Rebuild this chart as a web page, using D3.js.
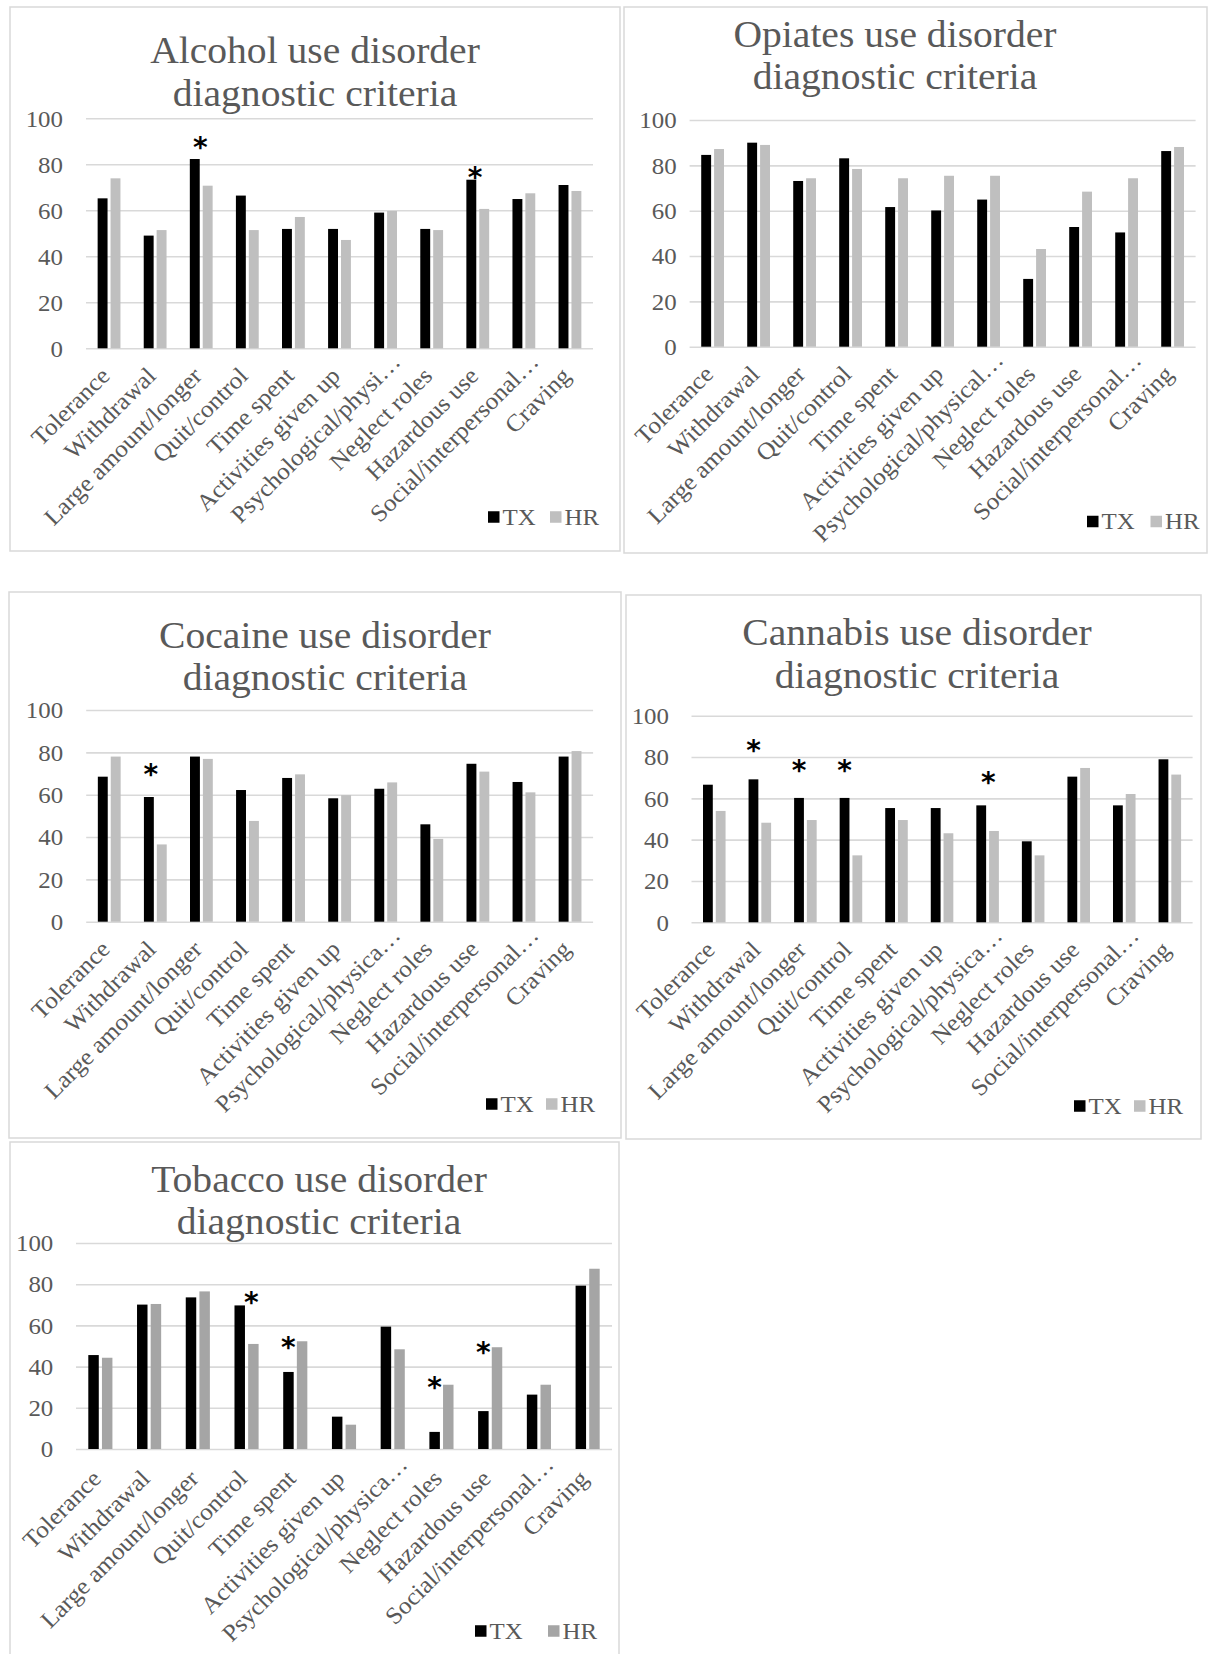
<!DOCTYPE html>
<html><head><meta charset="utf-8">
<script src="https://cdn.jsdelivr.net/npm/d3@7"></script>
<style>
body{margin:0;background:#fff}
svg{display:block}
text{font-family:"Liberation Serif","Times New Roman",serif}
</style>
</head><body>
<svg id="c" width="1210" height="1654"></svg>
<script>
// ---------------- DATA ----------------
const categories = ["Tolerance","Withdrawal","Large amount/longer","Quit/control","Time spent","Activities given up","Psychological/physical problems","Neglect roles","Hazardous use","Social/interpersonal problems","Craving"];
const yTicks = [0,20,40,60,80,100];
const seriesNames = ["TX","HR"];

const labelsAlcohol  = ["Tolerance","Withdrawal","Large amount/longer","Quit/control","Time spent","Activities given up","Psychological/physi…","Neglect roles","Hazardous use","Social/interpersonal…","Craving"];
const labelsOpiates  = ["Tolerance","Withdrawal","Large amount/longer","Quit/control","Time spent","Activities given up","Psychological/physical…","Neglect roles","Hazardous use","Social/interpersonal…","Craving"];
const labelsCocaine  = ["Tolerance","Withdrawal","Large amount/longer","Quit/control","Time spent","Activities given up","Psychological/physica…","Neglect roles","Hazardous use","Social/interpersonal…","Craving"];
const labelsCannabis = labelsCocaine.slice();
const labelsTobacco  = labelsCocaine.slice();

const alcoholTX  = [65.2, 49.0, 82.3, 66.4, 51.9, 51.9, 59.0, 51.9, 73.3, 64.9, 71.0];
const alcoholHR  = [73.9, 51.4, 70.7, 51.4, 57.1, 47.1, 59.7, 51.4, 60.6, 67.4, 68.4];
const opiatesTX  = [84.6, 90.0, 73.1, 83.1, 61.6, 60.1, 64.9, 29.9, 52.8, 50.4, 86.3];
const opiatesHR  = [87.2, 89.0, 74.3, 78.4, 74.3, 75.4, 75.4, 43.1, 68.4, 74.3, 88.1];
const cocaineTX  = [68.5, 58.9, 78.0, 62.2, 67.9, 58.3, 62.8, 46.0, 74.6, 66.0, 78.0];
const cocaineHR  = [78.0, 36.5, 76.9, 47.6, 69.6, 59.8, 65.8, 39.1, 70.9, 61.1, 80.6];
const cannabisTX = [66.6, 69.2, 60.2, 60.2, 55.3, 55.3, 56.6, 39.2, 70.5, 56.6, 78.9];
const cannabisHR = [53.9, 48.2, 49.5, 32.4, 49.5, 43.1, 44.2, 32.4, 74.7, 62.1, 71.5];
const tobaccoTX  = [45.6, 70.1, 73.6, 69.7, 37.4, 15.7, 59.4, 8.3, 18.4, 26.4, 79.3];
const tobaccoHR  = [44.3, 70.4, 76.5, 51.0, 52.3, 11.8, 48.4, 31.2, 49.4, 31.2, 87.5];

// significance markers: category, value level of the marker, position between TX(0) and HR(1)
const alcoholStars  = [{cat:"Large amount/longer", v:90.1, p:0.43},{cat:"Hazardous use", v:77.2, p:0.3}];
const opiatesStars  = [];
const cocaineStars  = [{cat:"Withdrawal", v:72.5, p:0.15}];
const cannabisStars = [{cat:"Withdrawal", v:86.3, p:0},{cat:"Large amount/longer", v:76.6, p:0},{cat:"Quit/control", v:76.6, p:0},{cat:"Psychological/physical problems", v:70.8, p:0.55}];
const tobaccoStars  = [{cat:"Quit/control", v:74.4, p:0.85},{cat:"Time spent", v:52.5, p:0},{cat:"Neglect roles", v:32.8, p:0},{cat:"Hazardous use", v:50.1, p:0}];

const titles = [
  ["Alcohol use disorder","diagnostic criteria"],
  ["Opiates use disorder","diagnostic criteria"],
  ["Cocaine use disorder","diagnostic criteria"],
  ["Cannabis use disorder","diagnostic criteria"],
  ["Tobacco use disorder","diagnostic criteria"]
];

// ---------------- LAYOUT ----------------
const panels = [
  {title:titles[0], labels:labelsAlcohol, tx:alcoholTX, hr:alcoholHR, stars:alcoholStars,
   frame:[10,7,620,551], px:[86,593], py:[348.3,118.3], tcx:315, tby:[62.7,106], pad:23, ldy:29,
   leg:{b:488,g:550,cy:517}, hrColor:"#bfbfbf"},
  {title:titles[1], labels:labelsOpiates, tx:opiatesTX, hr:opiatesHR, stars:opiatesStars,
   frame:[624,7,1207,553], px:[689.6,1195.6], py:[346.7,120], tcx:895, tby:[46.7,89.3], pad:13, ldy:29,
   leg:{b:1087,g:1150.5,cy:521.5}, hrColor:"#bfbfbf"},
  {title:titles[2], labels:labelsCocaine, tx:cocaineTX, hr:cocaineHR, stars:cocaineStars,
   frame:[9,592,621,1138], px:[86.2,593.1], py:[921.7,710], tcx:325, tby:[648.3,690], pad:23, ldy:29,
   leg:{b:486,g:546,cy:1104}, hrColor:"#bfbfbf"},
  {title:titles[3], labels:labelsCannabis, tx:cannabisTX, hr:cannabisHR, stars:cannabisStars,
   frame:[626,595,1201,1139], px:[691.5,1192.6], py:[922.3,715.7], tcx:917, tby:[645,688.3], pad:22.5, ldy:29,
   leg:{b:1074,g:1134,cy:1106}, hrColor:"#bfbfbf"},
  {title:titles[4], labels:labelsTobacco, tx:tobaccoTX, hr:tobaccoHR, stars:tobaccoStars,
   frame:[10,1142,619,1720], px:[76,612], py:[1449,1243], tcx:319, tby:[1191.7,1234], pad:22.7, ldy:31,
   leg:{b:475,g:548,cy:1631}, hrColor:"#a5a5a5"}
];

const GRID = "#d9d9d9", TXT = "#595959";
const SX = 1.06;      // horizontal stretch to imitate the wider original face
const LFS = 24;       // category label size
const LSX = 1.05;
const TRUNC_SHIFT = 20; // truncated labels sit further along their baseline
const svg = d3.select("#c");

panels.forEach(P => {
  const g = svg.append("g");
  const [fx0,fy0,fx1,fy1] = P.frame;
  g.append("rect").attr("x",fx0).attr("y",fy0).attr("width",fx1-fx0).attr("height",fy1-fy0)
    .attr("fill","#fff").attr("stroke",GRID).attr("stroke-width",1.5);

  const x = d3.scaleBand().domain(categories).range(P.px).paddingInner(0).paddingOuter(0);
  const y = d3.scaleLinear().domain([0,100]).range(P.py);
  const bw = x.bandwidth();
  const barW = bw*0.215, gap = bw*0.065;

  // y axis with gridlines
  const yAx = g.append("g").attr("transform",`translate(${P.px[0]},0)`)
    .call(d3.axisLeft(y).tickValues(yTicks).tickSize(-(P.px[1]-P.px[0])).tickPadding(P.pad).tickFormat(d3.format("d")));
  yAx.select(".domain").remove();
  yAx.selectAll(".tick line").attr("stroke",GRID).attr("stroke-width",1.6);
  yAx.selectAll(".tick text").attr("fill",TXT).attr("font-size",23.5)
    .attr("x",null).attr("dy","0.33em")
    .attr("transform",`translate(${-P.pad},0) scale(${SX},1)`)
    .style("font-family",'"Liberation Serif",serif');

  // bars
  const rows = categories.map((c,i)=>({c, tx:P.tx[i], hr:P.hr[i]}));
  g.append("g").selectAll("rect").data(rows).join("rect")
    .attr("x",d=>x(d.c)+bw/2-gap/2-barW).attr("y",d=>y(d.tx))
    .attr("width",barW).attr("height",d=>y(0)-y(d.tx)).attr("fill","#000");
  g.append("g").selectAll("rect").data(rows).join("rect")
    .attr("x",d=>x(d.c)+bw/2+gap/2).attr("y",d=>y(d.hr))
    .attr("width",barW).attr("height",d=>y(0)-y(d.hr)).attr("fill",P.hrColor);

  // x axis labels (rotated)
  const xAx = g.append("g").attr("transform",`translate(0,${P.py[0]})`)
    .call(d3.axisBottom(x).tickSize(0).tickFormat((d,i)=>P.labels[i]));
  xAx.select(".domain").remove();
  xAx.selectAll(".tick text").attr("fill",TXT).attr("font-size",LFS)
    .attr("y",null).attr("dy",null).attr("text-anchor","end")
    .attr("transform",function(){
      const t = d3.select(this).text();
      const s = t.endsWith("…") ? TRUNC_SHIFT : 0;
      return `translate(2,${P.ldy}) rotate(-45) translate(${s},0) scale(${LSX},1)`;
    })
    .style("font-family",'"Liberation Serif",serif');

  // significance markers
  g.append("g").selectAll("text").data(P.stars).join("text")
    .attr("x",d=>{const cx=x(d.cat)+bw/2; const t=cx-gap/2-barW/2, h=cx+gap/2+barW/2; return t+(h-t)*d.p;})
    .attr("y",d=>y(d.v)+16).attr("text-anchor","middle").attr("font-size",28).attr("font-weight","bold").attr("fill","#000")
    .style("font-family",'"DejaVu Sans",sans-serif').text("*");

  // title
  P.title.forEach((line,i)=>{
    g.append("text").attr("fill",TXT).attr("font-size",37).attr("text-anchor","middle")
      .attr("transform",`translate(${P.tcx},${P.tby[i]}) scale(1.07,1)`).text(line);
  });

  // legend
  const L = P.leg, sq = 11.5;
  const lg = g.append("g");
  [[L.b,"#000",seriesNames[0]],[L.g,P.hrColor,seriesNames[1]]].forEach(([lx,col,name])=>{
    lg.append("rect").attr("x",lx).attr("y",L.cy-sq/2).attr("width",sq).attr("height",sq).attr("fill",col);
    lg.append("text").attr("fill",TXT).attr("font-size",23.5)
      .attr("transform",`translate(${lx+sq+3},${L.cy+7.5}) scale(${SX},1)`).text(name);
  });
});
</script>
</body></html>
